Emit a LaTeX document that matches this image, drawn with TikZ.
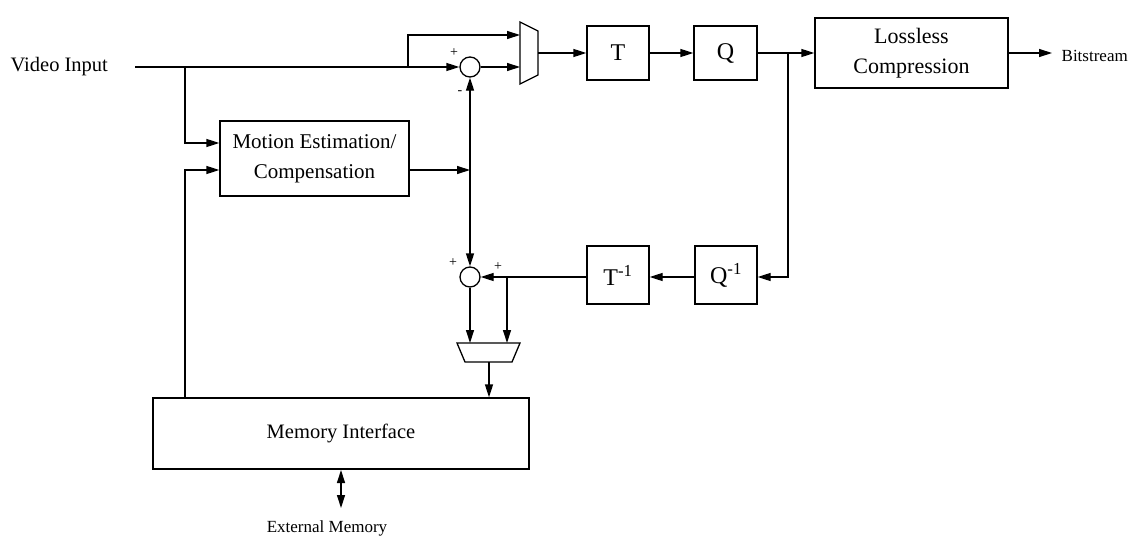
\documentclass[tikz,border=0pt]{standalone}
\usepackage{fontspec}
\setmainfont{Liberation Serif}
\usetikzlibrary{arrows.meta}
\begin{document}
\begin{tikzpicture}[x=1pt,y=-1pt,
  line width=1.3pt,
  arr/.style={-{Triangle[length=13pt,width=8pt]}},
  blk/.style={draw,rectangle,inner sep=0pt,align=center,font=\fontsize{21}{30}\selectfont},
  big/.style={font=\fontsize{24}{28}\selectfont},
  sumc/.style={draw,circle,minimum size=20pt,inner sep=0pt},
  lbl/.style={font=\fontsize{20.5}{24}\selectfont,inner sep=0pt},
  small/.style={font=\fontsize{17}{20}\selectfont,inner sep=0pt},
  sgn/.style={font=\fontsize{14}{16}\selectfont,inner sep=0pt}]
\useasboundingbox (0,0) rectangle (1140,538);
% blocks
\node[blk,minimum width=189pt,minimum height=75pt] (me) at (314.5,158.5) {Motion Estimation/\\Compensation};
\node[blk,minimum width=376pt,minimum height=71pt,font=\fontsize{20.5}{24}\selectfont] (mem) at (341,433.5) {Memory Interface};
\node[blk,big,minimum width=62pt,minimum height=54pt] (t) at (618,53) {T};
\node[blk,big,minimum width=63pt,minimum height=54pt] (q) at (725.5,53) {Q};
\node[blk,minimum width=193pt,minimum height=70pt,font=\fontsize{22}{30}\selectfont] (lc) at (911.5,53) {Lossless\\Compression};
\node[blk,big,minimum width=62pt,minimum height=58pt] (ti) at (618,275) {T\textsuperscript{-1}};
\node[blk,big,minimum width=62pt,minimum height=58pt] (qi) at (726,275) {Q\textsuperscript{-1}};
\node[sumc] (c1) at (470,67) {};
\node[sumc] (c2) at (470,277) {};
% muxes
\draw (520,22) -- (538,31) -- (538,75) -- (520,84) -- cycle;
\draw (457,343) -- (520,343) -- (512,362) -- (465,362) -- cycle;
\coordinate (m1a) at (520,35);
\coordinate (m1b) at (520,67);
\coordinate (m1o) at (538,53);
\coordinate (m2a) at (470,343);
\coordinate (m2b) at (507,343);
\coordinate (m2o) at (489,362);
% texts
\node[lbl,anchor=west] (vin) at (10,67) {Video Input};
\node[small,anchor=west] (bs) at (1061,56) {Bitstream};
\node[small] (ext) at (327,528) {External Memory};
\node[sgn] at (454,53) {+};
\node[sgn] at (460,93) {-};
\node[sgn] at (453,263) {+};
\node[sgn] at (498,267) {+};
% coordinates
\coordinate (vs) at (135,67);
\coordinate (j1) at (408,67);
\coordinate (j2) at (185,67);
\coordinate (j3) at (470,170);
\coordinate (j4) at (788,53);
\coordinate (j5) at (507,277);
\coordinate (bso) at (1052,53);
\coordinate (e1) at (341,470);
\coordinate (e2) at (341,508);
% connectors
\draw[arr] (vs) -- (c1.west);
\draw[arr] (j1) |- (m1a);
\draw[arr] (c1.east) -- (m1b);
\draw[arr] (m1o) -- (t.west);
\draw[arr] (t.east) -- (q.west);
\draw[arr] (q.east) -- (lc.west);
\draw[arr] (lc.east) -- (bso);
\draw[arr] (j4) |- (qi.east |- c2);
\draw[arr] (qi.west |- c2) -- (ti.east |- c2);
\draw[arr] (ti.west |- c2) -- (c2.east);
\draw[arr] (j5) -- (m2b);
\draw[arr] (c2.south) -- (m2a);
\draw[arr] (m2o) -- (m2o |- mem.north);
\draw[arr] (j2) |- (me.west |- 0,143);
\draw[arr] (mem.north -| j2) |- (me.west |- j3);
\draw[arr] (me.east |- j3) -- (j3);
\draw[arr] (j3) -- (c1.south);
\draw[arr] (j3) -- (c2.north);
\draw[{Triangle[length=13pt,width=8pt]}-{Triangle[length=13pt,width=8pt]}] (e1) -- (e2);
\end{tikzpicture}
\end{document}
